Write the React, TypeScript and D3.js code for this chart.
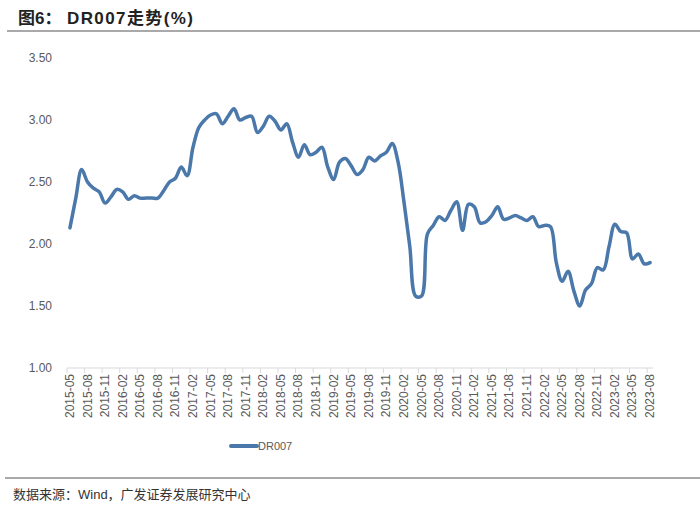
import React from "react";
import * as d3 from "d3";

const startYear = 2015;
const startMonth = 5;
const values: number[] = [
  2.13, 2.37, 2.60, 2.50, 2.45, 2.42, 2.33, 2.38,
  2.44, 2.42, 2.36, 2.39, 2.37, 2.37, 2.37, 2.37, 2.43, 2.50, 2.53, 2.62,
  2.55, 2.78, 2.94, 3.00, 3.04, 3.05, 2.97, 3.03, 3.09, 3.00, 3.02, 3.03,
  2.90, 2.95, 3.03, 2.99, 2.92, 2.97, 2.82, 2.70, 2.80, 2.72, 2.74, 2.78,
  2.62, 2.52, 2.66, 2.69, 2.63, 2.56, 2.60, 2.70, 2.67, 2.71, 2.74, 2.81,
  2.66, 2.34, 1.98, 1.58, 1.58, 2.08, 2.15, 2.22, 2.19, 2.27, 2.34, 2.11,
  2.32, 2.30, 2.17, 2.18, 2.23, 2.30, 2.20, 2.21, 2.23, 2.21, 2.19, 2.22,
  2.14, 2.15, 2.14, 1.85, 1.70, 1.78, 1.62, 1.50, 1.63, 1.68, 1.81, 1.79,
  1.98, 2.16, 2.10, 2.09, 1.88, 1.92, 1.84, 1.85,
];
const categories: string[] = values.map((_, i) => {
  const m = startMonth - 1 + i;
  const y = startYear + Math.floor(m / 12);
  const mm = (m % 12) + 1;
  return `${y}-${mm < 10 ? "0" + mm : mm}`;
});
const yTicks = [1.0, 1.5, 2.0, 2.5, 3.0, 3.5];
const seriesName = "DR007";
const titlePrefix = "图6：";
const titleMain = "DR007走势(%)";
const source = "数据来源：Wind，广发证券发展研究中心";

export default function App() {
  const W = 700, H = 508;
  const left = 67, right = 653, top = 58, bottom = 368;
  const x = d3.scaleBand<string>().domain(categories).range([left, right]);
  const y = d3.scaleLinear().domain([1, 3.5]).range([bottom, top]);
  const cx = (c: string) => (x(c) as number) + x.bandwidth() / 2;
  const line = d3
    .line<number>()
    .x((_, i) => cx(categories[i]))
    .y((d) => y(d))
    .curve(d3.curveCatmullRom.alpha(0.5));
  const labelCats = categories.filter((_, i) => i % 3 === 0);
  const tickIdx = d3.range(0, categories.length + 1, 3);
  const color = "#4a78aa";
  const axisFont = "Liberation Sans, Arial, sans-serif";
  const titleFont = "Liberation Sans, 'Noto Sans CJK SC', sans-serif";
  return (
    <svg width={W} height={H} style={{ position: "absolute", left: 0, top: 0, background: "#fff" }}>
      <text x={18} y={24} fontSize={17} fontWeight="bold" fill="#222" fontFamily={titleFont}>
        {titlePrefix}
      </text>
      <text x={67} y={24} fontSize={17} fontWeight="bold" fill="#222" fontFamily={titleFont} textLength={126} lengthAdjust="spacing">
        {titleMain}
      </text>
      <line x1={7} x2={700} y1={31} y2={31} stroke="#8c8c8c" strokeWidth={1.5} />
      {yTicks.map((t) => (
        <text key={t} x={52} y={y(t) + 4} textAnchor="end" fontSize={12} fill="#595959" fontFamily={axisFont}>
          {t.toFixed(2)}
        </text>
      ))}
      <line x1={left} x2={right} y1={bottom} y2={bottom} stroke="#d9d9d9" strokeWidth={1} />
      {tickIdx.map((i) => {
        const xx = left + i * x.step();
        return <line key={i} x1={xx} x2={xx} y1={bottom} y2={bottom + 5} stroke="#d9d9d9" strokeWidth={1} />;
      })}
      {labelCats.map((c) => (
        <text
          key={c}
          transform={`translate(${cx(c) + 4},${bottom + 6}) rotate(-90)`}
          textAnchor="end"
          fontSize={12}
          fill="#595959"
          fontFamily={axisFont}
        >
          {c}
        </text>
      ))}
      <path d={line(values) || ""} fill="none" stroke={color} strokeWidth={3.5} strokeLinejoin="round" strokeLinecap="round" />
      <line x1={231} x2={257} y1={446} y2={446} stroke={color} strokeWidth={4} strokeLinecap="round" />
      <text x={258} y={450} fontSize={11} fill="#595959" fontFamily={axisFont}>
        {seriesName}
      </text>
      <line x1={5} x2={700} y1={478} y2={478} stroke="#8c8c8c" strokeWidth={1.5} />
      <text x={13} y={499} fontSize={13} fill="#333" fontFamily="Liberation Sans, 'Noto Sans CJK SC', sans-serif">
        {source}
      </text>
    </svg>
  );
}
